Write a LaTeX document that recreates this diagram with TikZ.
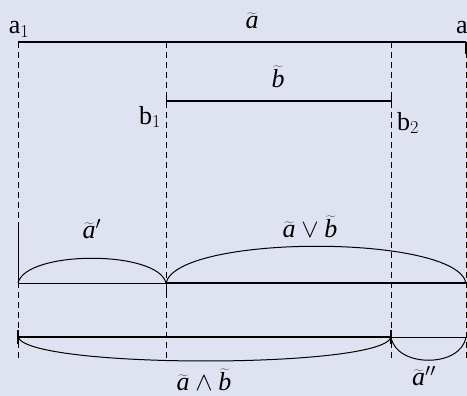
\RequirePackage{fix-cm}
\documentclass[tikz,border=0pt]{standalone}
\usepackage{fontspec}
\setmainfont{Liberation Serif}
\definecolor{paperblue}{RGB}{222,226,241}
\usetikzlibrary{calc}
\newcommand{\ta}{\widetilde{\textit{a}}}
\newcommand{\tb}{\widetilde{\textit{b}}}
\begin{document}
\begin{tikzpicture}[x=1pt, y=-1pt,
    guide/.style={dash pattern=on 6pt off 4pt, line width=0.8pt},
    thinseg/.style={line width=0.8pt},
    midseg/.style={line width=1.6pt},
    thickseg/.style={line width=2.8pt},
    arcline/.style={line width=1pt},
    lbl/.style={font=\fontsize{26}{28}\selectfont, inner sep=0pt}]
    % Paper
    \fill[paperblue] (0,0) rectangle (467,396);
    \useasboundingbox (0,0) rectangle (467,396);

    % End points
    \coordinate (a1) at (18,42);
    \coordinate (a2) at (466,42);
    \coordinate (b1) at (166,101);
    \coordinate (b2) at (391,101);
    % Second row (complement and union)
    \coordinate (p1) at (18,283);
    \coordinate (p2) at (166,283);
    \coordinate (p3) at (466,283);
    % Third row (intersection and complement)
    \coordinate (q1) at (18,337);
    \coordinate (q2) at (391,337);
    \coordinate (q3) at (466,337);

    % Guide lines
    \draw[guide] (a1) -- ($(a1)+(0,318)$);
    \draw[guide] ($(b1)+(0,-59)$) -- ($(b1)+(0,261)$);
    \draw[guide] ($(b2)+(0,-59)$) -- ($(b2)+(0,259)$);
    \draw[guide] (a2) -- ($(a2)+(0,318)$);
    \draw[thinseg] ($(p1)+(0,-55)$) -- (p1);

    % Interval a
    \draw[midseg] (a1) -- (a2);
    \draw[midseg] (a2) -- ++(0,12);
    \node[lbl] (la1) at (19,29) {a$_1$};
    \node[lbl, anchor=west] (la2) at (456,29) {a$_2$};
    \node[lbl] (la) at (252,21) {$\ta$};

    % Interval b
    \draw[midseg] (b1) -- (b2);
    \draw[thinseg] ($(b1)+(0,-6)$) -- ($(b1)+(0,6)$);
    \draw[thinseg] ($(b2)+(0,-6)$) -- ($(b2)+(0,6)$);
    \node[lbl] (lb1) at (150,117) {b$_1$};
    \node[lbl] (lb2) at (408,123) {b$_2$};
    \node[lbl] (lb) at (278,77) {$\tb$};

    % Complement and union
    \draw[thinseg] (p1) -- (p2);
    \draw[thickseg] (p2) -- (p3);
    \draw[thinseg] (p2) -- ++(0,10);
    \draw[arcline] (p1) .. controls (26,250) and (158,250) .. (p2);
    \draw[arcline] (p2) .. controls (178,234) and (456,234) .. (p3);
    \node[lbl] (lc) at (92,229) {$\ta'$};
    \node[lbl] (lu) at (310,227) {$\ta\vee\tb$};

    % Intersection and complement
    \draw[thickseg] (q1) -- (q2);
    \draw[thinseg] (q2) -- (q3);
    \draw[thickseg] ($(q1)+(0,-7)$) -- ($(q1)+(0,7)$);
    \draw[midseg] ($(q2)+(0,-7)$) -- ($(q2)+(0,7)$);
    \draw[arcline] (q1) .. controls (28,369) and (384,369) .. (q2);
    \draw[arcline] (q2) .. controls (396,368) and (461,368) .. (q3);
    \node[lbl] (li) at (204,380) {$\ta\wedge\tb$};
    \node[lbl] (lc2) at (424,376) {$\ta''$};
\end{tikzpicture}
\end{document}
